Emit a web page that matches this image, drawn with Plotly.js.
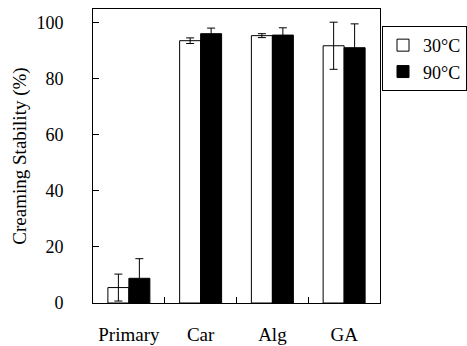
<!DOCTYPE html>
<html><head><meta charset="utf-8">
<script src="https://cdn.plot.ly/plotly-3.0.1.min.js"></script>
<style>html,body{margin:0;padding:0;background:#fff}</style>
</head><body>
<div id="chart" style="width:467px;height:346px"></div>
<script>
var categories = ["Primary", "Car", "Alg", "GA"];
var values30 = [5.5, 93.5, 95.3, 91.7];
var errors30 = [4.8, 1.0, 0.7, 8.4];
var values90 = [8.8, 96.0, 95.5, 91.0];
var errors90 = [7.0, 2.0, 2.6, 8.5];
var seriesNames = ["30\u00B0C", "90\u00B0C"];

var font = "Times New Roman, Liberation Serif, DejaVu Serif, serif";
var traces = [
  {type:"bar", x:categories, y:values30, name:seriesNames[0],
   marker:{color:"#ffffff", line:{color:"#000", width:1}},
   error_y:{type:"data", array:errors30, visible:true, color:"#000", thickness:1, width:4}},
  {type:"bar", x:categories, y:values90, name:seriesNames[1],
   marker:{color:"#000000", line:{color:"#000", width:1}},
   error_y:{type:"data", array:errors90, visible:true, color:"#000", thickness:1, width:4}}
];
var layout = {
  width:467, height:346,
  margin:{l:93, r:87, t:9, b:43},
  paper_bgcolor:"#fff", plot_bgcolor:"#fff",
  font:{family:font, color:"#000", size:18},
  barmode:"group", bargap:0.415, bargroupgap:0,
  showlegend:true,
  legend:{xref:"container", yref:"container", x:0.818, xanchor:"left", y:0.925, yanchor:"top",
    bordercolor:"#000", borderwidth:1,
    font:{family:font, size:18}, bgcolor:"#fff", itemwidth:30, tracegroupgap:0},
  xaxis:{showline:true, linecolor:"#000", linewidth:1, mirror:true,
    ticks:"inside", tickson:"boundaries", ticklen:6, tickcolor:"#000",
    tickfont:{family:font, size:19}, ticklabelstandoff:14, showgrid:false, zeroline:false},
  yaxis:{range:[0,104.8], showline:true, linecolor:"#000", linewidth:1, mirror:true,
    ticks:"inside", ticklen:6, tickcolor:"#000", dtick:20, showgrid:false, zeroline:false,
    tickfont:{family:font, size:18}, ticklabelstandoff:25,
    title:{text:"Creaming Stability (%)", font:{family:font, size:19}, standoff:4}}
};
Plotly.newPlot("chart", traces, layout, {displayModeBar:false, staticPlot:true});
</script>
</body></html>
